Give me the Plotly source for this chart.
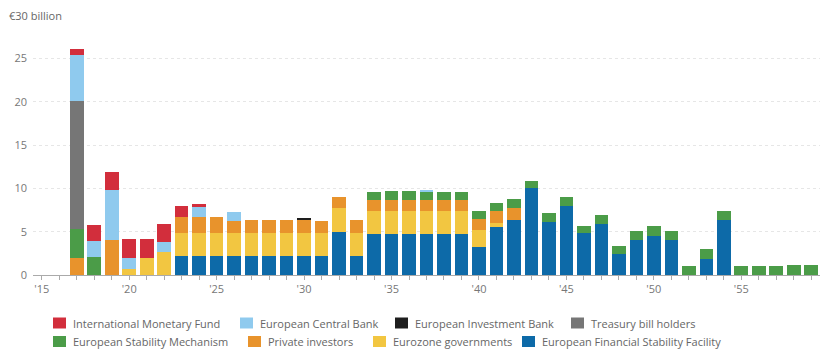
import plotly.graph_objects as go

# ---------------- data ----------------
years = list(range(2015, 2060))

def series(d):
    return [d.get(y, 0) for y in years]

efsf = series({2023: 2.2, 2024: 2.2, 2025: 2.2, 2026: 2.2, 2027: 2.2, 2028: 2.2, 2029: 2.2,
               2030: 2.2, 2031: 2.2, 2032: 5.0, 2033: 2.2, 2034: 4.7, 2035: 4.7, 2036: 4.7,
               2037: 4.7, 2038: 4.7, 2039: 4.7, 2040: 3.2, 2041: 5.5, 2042: 6.4, 2043: 10.0,
               2044: 6.15, 2045: 8.0, 2046: 4.8, 2047: 5.85, 2048: 2.4, 2049: 4.0, 2050: 4.5,
               2051: 4.0, 2053: 1.9, 2054: 6.3})
eurozone_govs = series({2020: 0.7, 2021: 2.0, 2022: 2.6, 2023: 2.7, 2024: 2.7, 2025: 2.7,
                        2026: 2.7, 2027: 2.7, 2028: 2.7, 2029: 2.7, 2030: 2.7, 2031: 2.7,
                        2032: 2.7, 2033: 2.7, 2034: 2.7, 2035: 2.7, 2036: 2.7, 2037: 2.7,
                        2038: 2.7, 2039: 2.7, 2040: 2.0, 2041: 0.5})
private_investors = series({2017: 2.0, 2019: 4.0, 2023: 1.8, 2024: 1.8, 2025: 1.75, 2026: 1.3,
                            2027: 1.45, 2028: 1.45, 2029: 1.45, 2030: 1.45, 2031: 1.3,
                            2032: 1.3, 2033: 1.45, 2034: 1.3, 2035: 1.3, 2036: 1.3, 2037: 1.3,
                            2038: 1.3, 2039: 1.3, 2040: 1.3, 2041: 1.4, 2042: 1.35})
esm = series({2017: 3.3, 2018: 2.1, 2034: 0.9, 2035: 1.0, 2036: 1.0, 2037: 0.95, 2038: 0.85,
              2039: 0.85, 2040: 0.85, 2041: 0.9, 2042: 1.0, 2043: 0.9, 2044: 0.95, 2045: 1.05,
              2046: 0.9, 2047: 1.05, 2048: 1.0, 2049: 1.1, 2050: 1.15, 2051: 1.1, 2052: 1.05,
              2053: 1.1, 2054: 1.1, 2055: 1.05, 2056: 1.05, 2057: 1.05, 2058: 1.15, 2059: 1.15})
tbill_holders = series({2017: 14.8})
ecb = series({2017: 5.3, 2018: 1.8, 2019: 5.8, 2020: 1.3, 2022: 1.2, 2024: 1.2, 2026: 1.1,
              2037: 0.15})
eib = series({2030: 0.15})
imf = series({2017: 0.7, 2018: 1.9, 2019: 2.1, 2020: 2.1, 2021: 2.1, 2022: 2.1, 2023: 1.3,
              2024: 0.3})

series_names = ["European Financial Stability Facility", "Eurozone governments",
                "Private investors", "European Stability Mechanism", "Treasury bill holders",
                "European Central Bank", "European Investment Bank", "International Monetary Fund"]
series_values = [efsf, eurozone_govs, private_investors, esm, tbill_holders, ecb, eib, imf]
series_colors = ["#0d6aa8", "#f2c641", "#e8932c", "#4b9c48", "#767676", "#8fcaee", "#1e1e1e",
                 "#d22e3c"]

tick_years = list(range(2015, 2060))
tick_labels = ["'%02d" % (y % 100) if y % 5 == 0 else "" for y in tick_years]
y_ticks = [0, 5, 10, 15, 20, 25, 30]
y_labels = ["0", "5", "10", "15", "20", "25", ""]
unit_label = "€30 billion"

legend_order = [["International Monetary Fund", "European Central Bank",
                 "European Investment Bank", "Treasury bill holders"],
                ["European Stability Mechanism", "Private investors",
                 "Eurozone governments", "European Financial Stability Facility"]]

# ---------------- figure ----------------
W, H = 829, 360
L, R, T, B = 33, 9, 15, 85
pw, ph = W - L - R, H - T - B

fig = go.Figure()
for name, vals, col in zip(series_names, series_values, series_colors):
    fig.add_trace(go.Bar(x=years, y=vals, name=name, marker=dict(color=col, line=dict(width=0)),
                         showlegend=False))

FONT = "Open Sans, Noto Sans, sans-serif"
fig.update_layout(
    width=W, height=H, autosize=False,
    margin=dict(l=L, r=R, t=T, b=B, pad=0),
    barmode="stack", bargap=0.22,
    paper_bgcolor="white", plot_bgcolor="white",
    font=dict(family=FONT, size=11, color="#666"),
    xaxis=dict(range=[2014.5, 2059.5], tickmode="array", tickvals=tick_years,
               ticktext=tick_labels, ticks="outside", ticklen=4, tickcolor="#aaa",
               tickwidth=1, showline=True, linecolor="#aaa", linewidth=1, showgrid=False,
               zeroline=False, tickfont=dict(size=11, color="#777"), fixedrange=True),
    yaxis=dict(range=[0, 30], tickmode="array", tickvals=y_ticks, ticktext=y_labels,
               showgrid=True, gridcolor="#e6e6e6", griddash="dot", gridwidth=1,
               zeroline=False, showline=False, ticks="", ticklabelstandoff=5,
               tickfont=dict(size=11, color="#777"), fixedrange=True),
)

def px_x(x):
    return (x - L) / pw

def px_y(y):
    return (H - B - y) / ph

fig.add_annotation(xref="paper", yref="y", x=px_x(7), y=30, text=unit_label,
                   showarrow=False, xanchor="left", yanchor="middle",
                   font=dict(size=11, color="#666"), bgcolor="white")

legend_x = [[53, 240, 395, 571], [53, 248, 373, 522]]
legend_y = [323, 341.5]
color_of = dict(zip(series_names, series_colors))
for r, row in enumerate(legend_order):
    for c, name in enumerate(row):
        x0 = legend_x[r][c]
        yc = legend_y[r]
        fig.add_shape(type="rect", xref="paper", yref="paper",
                      x0=px_x(x0), x1=px_x(x0 + 13), y0=px_y(yc + 5.5), y1=px_y(yc - 5.5),
                      fillcolor=color_of[name], line=dict(width=0), layer="above")
        fig.add_annotation(xref="paper", yref="paper", x=px_x(x0 + 18), y=px_y(yc),
                           text=name, showarrow=False, xanchor="left", yanchor="middle",
                           font=dict(size=11, color="#666"))

fig.write_html("out.html", config={"displayModeBar": False},
               post_script="document.body.style.margin='0';document.body.style.overflow='hidden';")
